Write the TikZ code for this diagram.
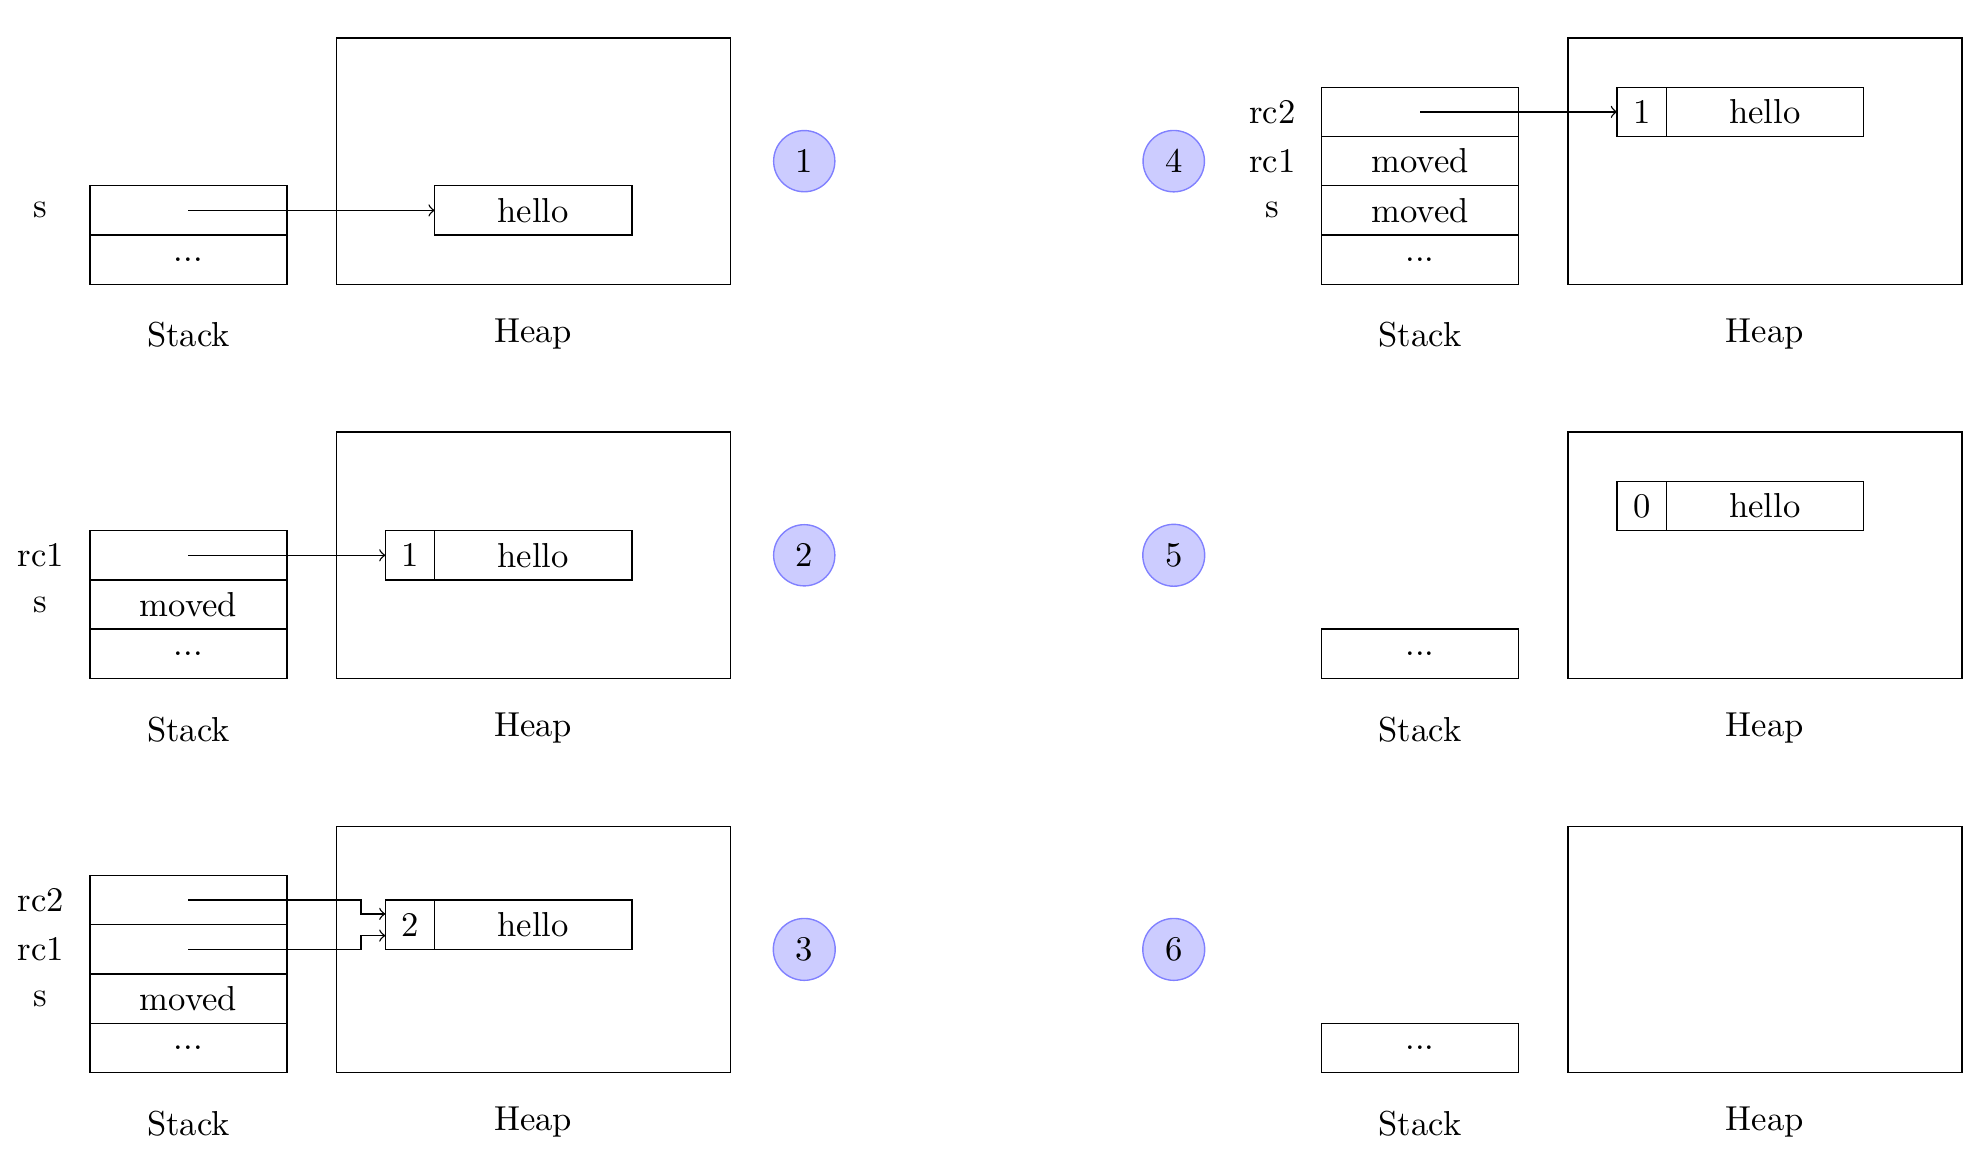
\documentclass[tikz,border=0pt]{standalone}
\usetikzlibrary{calc}
\begin{document}
\begin{tikzpicture}[x=0.5cm,y=0.5cm,
  cell/.style={draw, minimum width=2cm, minimum height=0.5cm, inner sep=0pt, outer sep=0pt},
  cnt/.style={draw, minimum width=0.5cm, minimum height=0.5cm, inner sep=0pt, outer sep=0pt},
  heapbox/.style={draw, minimum width=4cm, minimum height=2.5cm, inner sep=0pt, outer sep=0pt},
  stepnum/.style={circle, draw=blue!50, fill=blue!20},
  lbl/.style={inner sep=1pt},
  ptr/.style={->}]
\useasboundingbox (-1.825,-23.059) rectangle (38.488,0.771);

% ---------- Panel 1 ----------
\node[heapbox] (h1) at (9,-2.5) {};
\node[cell] (p1s) at (2,-3.5) {};
\node[cell] (p1d) at (2,-4.5) {...};
\node[cell] (p1hello) at (9,-3.5) {hello};
\node[lbl] (p1ls) at (-1,-3.5) {s};
\node (p1stack) at (2,-6.03) {Stack};
\node (p1heap) at (9,-6) {Heap};
\node[stepnum] (n1) at (14.5,-2.5) {1};
\draw[ptr] (p1s.center) -- (p1hello.west);

% ---------- Panel 2 ----------
\node[heapbox] (h2) at (9,-10.5) {};
\node[cell] (p2rc1) at (2,-10.5) {};
\node[cell] (p2s) at (2,-11.5) {moved};
\node[cell] (p2d) at (2,-12.5) {...};
\node[cnt] (p2cnt) at (6.5,-10.5) {1};
\node[cell] (p2hello) at (9,-10.5) {hello};
\node[lbl] (p2lrc1) at (-1,-10.5) {rc1};
\node[lbl] (p2ls) at (-1,-11.5) {s};
\node (p2stack) at (2,-14.03) {Stack};
\node (p2heap) at (9,-14) {Heap};
\node[stepnum] (n2) at (14.5,-10.5) {2};
\draw[ptr] (p2rc1.center) -- (p2cnt.west);

% ---------- Panel 3 ----------
\node[heapbox] (h3) at (9,-18.5) {};
\node[cell] (p3rc2) at (2,-17.5) {};
\node[cell] (p3rc1) at (2,-18.5) {};
\node[cell] (p3s) at (2,-19.5) {moved};
\node[cell] (p3d) at (2,-20.5) {...};
\node[cnt] (p3cnt) at (6.5,-18) {2};
\node[cell] (p3hello) at (9,-18) {hello};
\node[lbl] (p3lrc2) at (-1,-17.5) {rc2};
\node[lbl] (p3lrc1) at (-1,-18.5) {rc1};
\node[lbl] (p3ls) at (-1,-19.5) {s};
\node (p3stack) at (2,-22.03) {Stack};
\node (p3heap) at (9,-22) {Heap};
\node[stepnum] (n3) at (14.5,-18.5) {3};
\coordinate (p3a) at ([yshift=0.11cm]p3cnt.west);
\coordinate (p3b) at ([yshift=-0.11cm]p3cnt.west);
\draw[ptr] (p3rc2.center) -| ([xshift=-0.25cm]p3a) -- (p3a);
\draw[ptr] (p3rc1.center) -| ([xshift=-0.25cm]p3b) -- (p3b);

% ---------- Panel 4 ----------
\node[heapbox] (h4) at (34,-2.5) {};
\node[cell] (p4rc2) at (27,-1.5) {};
\node[cell] (p4rc1) at (27,-2.5) {moved};
\node[cell] (p4s) at (27,-3.5) {moved};
\node[cell] (p4d) at (27,-4.5) {...};
\node[cnt] (p4cnt) at (31.5,-1.5) {1};
\node[cell] (p4hello) at (34,-1.5) {hello};
\node[lbl] (p4lrc2) at (24,-1.5) {rc2};
\node[lbl] (p4lrc1) at (24,-2.5) {rc1};
\node[lbl] (p4ls) at (24,-3.5) {s};
\node (p4stack) at (27,-6.03) {Stack};
\node (p4heap) at (34,-6) {Heap};
\node[stepnum] (n4) at (22,-2.5) {4};
\draw[ptr] (p4rc2.center) -- (p4cnt.west);

% ---------- Panel 5 ----------
\node[heapbox] (h5) at (34,-10.5) {};
\node[cell] (p5d) at (27,-12.5) {...};
\node[cnt] (p5cnt) at (31.5,-9.5) {0};
\node[cell] (p5hello) at (34,-9.5) {hello};
\node (p5stack) at (27,-14.03) {Stack};
\node (p5heap) at (34,-14) {Heap};
\node[stepnum] (n5) at (22,-10.5) {5};

% ---------- Panel 6 ----------
\node[heapbox] (h6) at (34,-18.5) {};
\node[cell] (p6d) at (27,-20.5) {...};
\node (p6stack) at (27,-22.03) {Stack};
\node (p6heap) at (34,-22) {Heap};
\node[stepnum] (n6) at (22,-18.5) {6};
\end{tikzpicture}
\end{document}
